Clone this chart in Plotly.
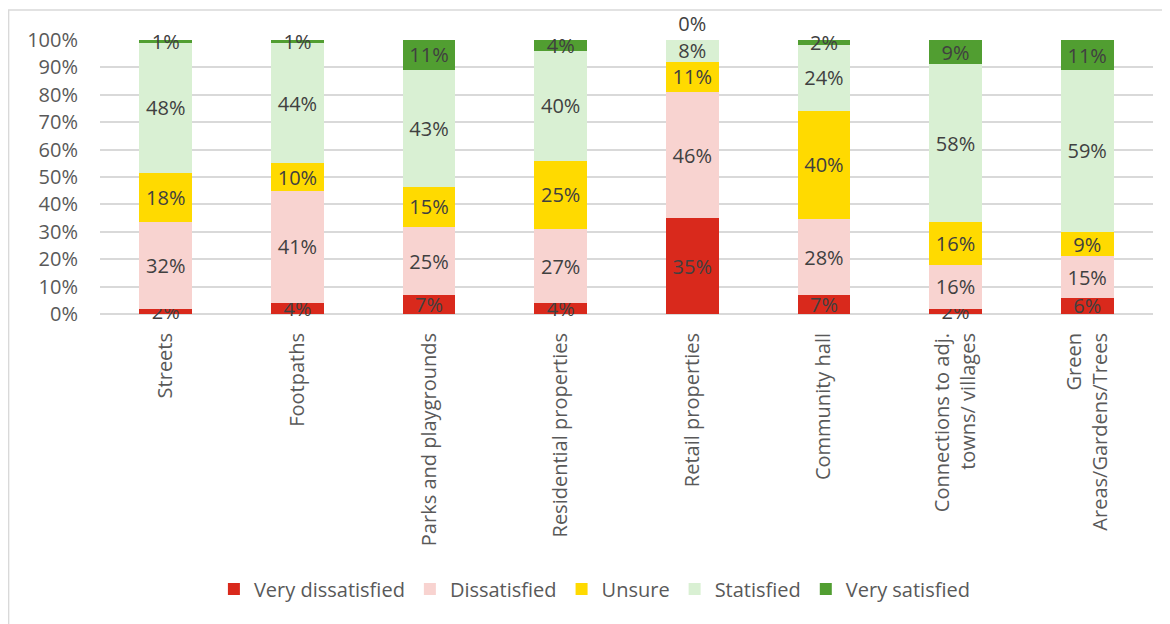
import plotly.graph_objects as go

categories = ["Streets", "Footpaths", "Parks and playgrounds", "Residential properties",
              "Retail properties", "Community hall", "Connections to adj.<br>towns/ villages",
              "Green<br>Areas/Gardens/Trees"]
very_dissatisfied = [2, 4, 7, 4, 35, 7, 2, 6]
dissatisfied = [32, 41, 25, 27, 46, 28, 16, 15]
unsure = [18, 10, 15, 25, 11, 40, 16, 9]
satisfied = [48, 44, 43, 40, 8, 24, 58, 59]
very_satisfied = [1, 1, 11, 4, 0, 2, 9, 11]

series = [
    ("Very dissatisfied", very_dissatisfied, "#D9291C"),
    ("Dissatisfied", dissatisfied, "#F8D3D0"),
    ("Unsure", unsure, "#FFDA00"),
    ("Statisfied", satisfied, "#D9F0D3"),
    ("Very satisfied", very_satisfied, "#519E31"),
]

fig = go.Figure()
for name, vals, color in series:
    fig.add_trace(go.Bar(
        x=categories, y=vals, name=name,
        marker=dict(color=color, line=dict(width=0)),
        text=[f"{v}%" for v in vals],
        texttemplate="%{text}",
        textposition=["outside" if v == 0 else "inside" for v in vals],
        insidetextanchor="middle",
        textangle=0,
        textfont=dict(family="Open Sans", size=20, color="#404040"),
        cliponaxis=False,
    ))

fig.update_layout(
    barmode="stack",
    barnorm="percent",
    bargap=0.6,
    width=1170, height=624,
    margin=dict(l=92, r=25, t=32, b=318, autoexpand=False),
    paper_bgcolor="white",
    plot_bgcolor="white",
    uniformtext=dict(minsize=20, mode="show"),
    font=dict(family="Open Sans", color="#595959"),
    legend=dict(
        orientation="h", x=0.47, xanchor="center", y=-1.004, yanchor="middle",
        font=dict(family="Open Sans", size=20, color="#595959"),
        itemsizing="constant", traceorder="normal",
    ),
    xaxis=dict(
        tickangle=-90, tickfont=dict(family="Open Sans", size=20, color="#595959"),
        showline=False, ticks="", automargin=False, ticklabelstandoff=14,
    ),
    yaxis=dict(
        range=[0, 100], tickvals=[0, 10, 20, 30, 40, 50, 60, 70, 80, 90, 100],
        ticktext=["0%", "10%", "20%", "30%", "40%", "50%", "60%", "70%", "80%", "90%", "100%"],
        tickfont=dict(family="Open Sans", size=20, color="#595959"),
        showgrid=True, gridcolor="#D9D9D9", gridwidth=2,
        zeroline=True, zerolinecolor="#D9D9D9", zerolinewidth=2,
        ticks="", ticklabelstandoff=21, automargin=False,
    ),
    shapes=[dict(type="rect", xref="paper", yref="paper",
                 x0=-0.0868, x1=1.03, y0=-1.16, y1=1.1095,
                 line=dict(color="#D9D9D9", width=1.5), fillcolor="rgba(0,0,0,0)",
                 layer="above")],
)

fig.write_html("out.html")
